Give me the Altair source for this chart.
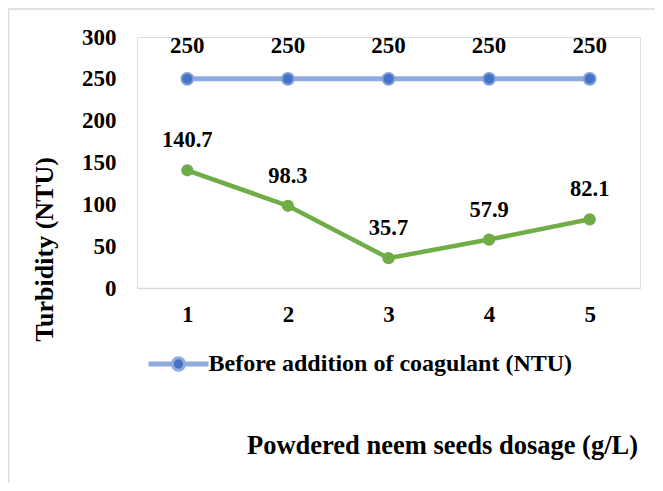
import altair as alt
import pandas as pd

# ---- data ----
dosage = [1, 2, 3, 4, 5]
before_vals = [250, 250, 250, 250, 250]
after_vals = [140.7, 98.3, 35.7, 57.9, 82.1]
before_name = "Before addition of coagulant (NTU)"
after_name = "After addition of coagulant (NTU)"
y_ticks = [0, 50, 100, 150, 200, 250, 300]

df_b = pd.DataFrame({"dosage": dosage, "turbidity": before_vals, "series": before_name})
df_a = pd.DataFrame({"dosage": dosage, "turbidity": after_vals, "series": after_name})

FONT = "Liberation Serif"
BLUE_LINE = "#8FAADC"
BLUE_PT = "#4472C4"
GREEN = "#70AD47"

x_enc = alt.X(
    "dosage:O",
    scale=alt.Scale(type="point", padding=0.5),
    axis=alt.Axis(
        title="Powdered neem seeds dosage (g/L)",
        labelAngle=0,
        labelFont=FONT, labelFontSize=23, labelFontWeight="bold", labelColor="#000000",
        labelPadding=15, ticks=False, tickSize=0,
        domain=True, domainColor="#D9D9D9", domainWidth=1.3,
        grid=False,
        titleFont=FONT, titleFontSize=26.5, titleFontWeight="bold", titleColor="#000000",
        titleX=305, titleY=165, titleAlign="center", titleBaseline="alphabetic",
    ),
)
y_enc = alt.Y(
    "turbidity:Q",
    scale=alt.Scale(domain=[0, 300], nice=False, zero=True),
    axis=alt.Axis(
        title="Turbidity (NTU)",
        values=y_ticks,
        labelFont=FONT, labelFontSize=23, labelFontWeight="bold", labelColor="#000000",
        labelPadding=21, ticks=False, tickSize=0, domain=False, grid=False,
        labelBaseline="middle",
        titleFont=FONT, titleFontSize=26, titleFontWeight="bold", titleColor="#000000",
        titleAngle=270, titleX=-85, titleY=212, titleAlign="center", titleBaseline="alphabetic",
    ),
)

legend_path = (
    "M-1,-0.035H-0.228V0.035H-1Z M0.228,-0.035H1V0.035H0.228Z "
    "M-0.215,0A0.215,0.215 0 1,1 0.215,0A0.215,0.215 0 1,1 -0.215,0Z"
)

blue_line = alt.Chart(df_b).mark_line(strokeWidth=5).encode(
    x=x_enc, y=y_enc,
    color=alt.Color(
        "series:N",
        scale=alt.Scale(domain=[before_name], range=[BLUE_LINE]),
        legend=alt.Legend(
            title=None, orient="none", legendX=11.5, legendY=297, padding=0,
            symbolType=legend_path, symbolSize=3249,
            symbolFillColor=BLUE_PT, symbolStrokeColor=BLUE_LINE, symbolStrokeWidth=3,
            labelFont=FONT, labelFontSize=24, labelFontWeight="bold", labelColor="#000000",
            labelOffset=0, labelLimit=600,
        ),
    ),
)
blue_pts = alt.Chart(df_b).mark_point(
    filled=True, shape="circle", size=140, fill=BLUE_PT, stroke="#7FA0DA", strokeWidth=2, opacity=1
).encode(x=x_enc, y=y_enc)
blue_txt = alt.Chart(df_b).mark_text(
    font=FONT, fontSize=23, fontWeight="bold", color="#000000", dy=-33, baseline="middle"
).encode(x=x_enc, y=y_enc, text=alt.Text("turbidity:Q", format="d"))

green_line = alt.Chart(df_a).mark_line(strokeWidth=4.5, color=GREEN).encode(x=x_enc, y=y_enc)
green_pts = alt.Chart(df_a).mark_point(
    filled=True, shape="circle", size=150, color=GREEN, opacity=1
).encode(x=x_enc, y=y_enc)
green_txt = alt.Chart(df_a).mark_text(
    font=FONT, fontSize=22.5, fontWeight="bold", color="#000000", dy=-30, baseline="middle"
).encode(x=x_enc, y=y_enc, text=alt.Text("turbidity:Q", format=".1f"))

frame = alt.Chart(alt.Data(values=[{"a": 1}])).mark_rect(
    fill=None, stroke="#D9D9D9", strokeWidth=1.5
).encode(
    x=alt.value(-128.5), y=alt.value(-28), x2=alt.value(900), y2=alt.value(900)
)

chart = alt.layer(
    frame, blue_line, blue_pts, blue_txt, green_line, green_pts, green_txt
).properties(
    width=503, height=251,
    autosize=alt.AutoSizeParams(type="none"),
    padding={"left": 129, "top": 29, "right": 15, "bottom": 195},
).configure_view(stroke=None).configure(background="#FFFFFF")

chart.save("out.html", embed_options={"renderer": "svg", "actions": False})
